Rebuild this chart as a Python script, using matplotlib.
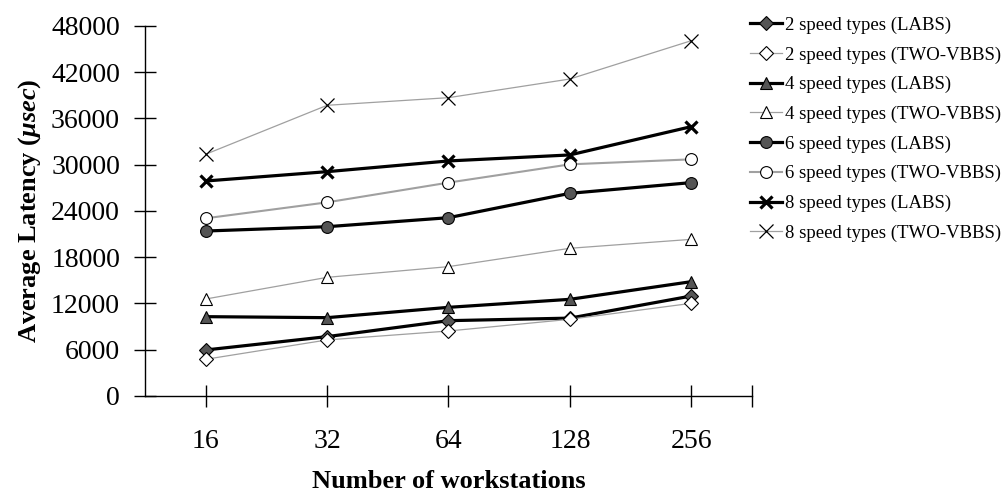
import numpy as np
import matplotlib.pyplot as plt
from matplotlib.ticker import FixedLocator

plt.rcParams['font.family'] = 'Liberation Serif'
plt.rcParams['mathtext.fontset'] = 'custom'
plt.rcParams['mathtext.bf'] = 'Liberation Serif:bold:italic'

workstations = ['16', '32', '64', '128', '256']

labs_2 = [5970, 7700, 9770, 10100, 12970]
vbbs_2 = [4760, 7270, 8430, 9950, 12020]
labs_4 = [10290, 10160, 11500, 12540, 14830]
vbbs_4 = [12580, 15390, 16780, 19160, 20320]
labs_6 = [21400, 21960, 23130, 26290, 27680]
vbbs_6 = [23050, 25120, 27680, 30050, 30700]
labs_8 = [27890, 29100, 30490, 31270, 34940]
vbbs_8 = [31360, 37710, 38700, 41120, 46090]

yticks = list(range(0, 48001, 6000))

fig = plt.figure(figsize=(10.03, 4.93), dpi=100)
ax = fig.add_axes([0.1446, 0.1968, 0.6051, 0.7505])
x = np.arange(len(workstations))

dark = '#555555'
grey = '#a0a0a0'

ax.plot(x, labs_2, color='black', lw=2.3, marker='D', ms=7, mfc=dark, mec='black', mew=0.8,
        label='2 speed types (LABS)')
ax.plot(x, vbbs_2, color=grey, lw=0.9, marker='D', ms=7, mfc='white', mec='black', mew=0.8,
        label='2 speed types (TWO-VBBS)')
ax.plot(x, labs_4, color='black', lw=2.3, marker='^', ms=9, mfc=dark, mec='black', mew=0.8,
        label='4 speed types (LABS)')
ax.plot(x, vbbs_4, color=grey, lw=0.9, marker='^', ms=9, mfc='white', mec='black', mew=0.8,
        label='4 speed types (TWO-VBBS)')
ax.plot(x, labs_6, color='black', lw=2.3, marker='o', ms=8.5, mfc=dark, mec='black', mew=0.8,
        label='6 speed types (LABS)')
ax.plot(x, vbbs_6, color=grey, lw=1.5, marker='o', ms=8.5, mfc='white', mec='black', mew=0.8,
        label='6 speed types (TWO-VBBS)')
ax.plot(x, labs_8, color='black', lw=2.3, marker='x', ms=9, mec='black', mew=2.3,
        label='8 speed types (LABS)')
ax.plot(x, vbbs_8, color=grey, lw=0.9, marker='x', ms=9.5, mec='black', mew=0.9,
        label='8 speed types (TWO-VBBS)')

ax.set_xlim(-0.5, len(workstations) - 0.5)
ax.set_ylim(0, 48000)
ax.set_xticks(x)
ax.set_xticklabels(workstations)
ax.xaxis.set_minor_locator(FixedLocator([len(workstations) - 0.5]))
ax.set_yticks(yticks)
ax.set_yticklabels([str(v) for v in yticks])

for side in ['top', 'right']:
    ax.spines[side].set_visible(False)
ax.spines['left'].set_linewidth(1.0)
ax.spines['bottom'].set_linewidth(1.0)
ax.tick_params(axis='both', which='both', direction='inout', length=16, width=1.0,
               labelsize=20)
ax.tick_params(axis='y', pad=10)
ax.tick_params(axis='x', pad=16)

ax.set_xlabel('Number of workstations', fontsize=19, fontweight='bold', labelpad=11)
ax.set_ylabel(r'Average Latency ($\mathbf{\mu sec}$)', fontsize=19, fontweight='bold',
              labelpad=6)

ax.legend(loc='upper left', bbox_to_anchor=(0.997, 1.025), frameon=False, fontsize=13.5,
          handlelength=1.7, handletextpad=0.15, labelspacing=0.66, borderpad=0.0,
          borderaxespad=0.0)

fig.savefig('out.png', dpi=100)
